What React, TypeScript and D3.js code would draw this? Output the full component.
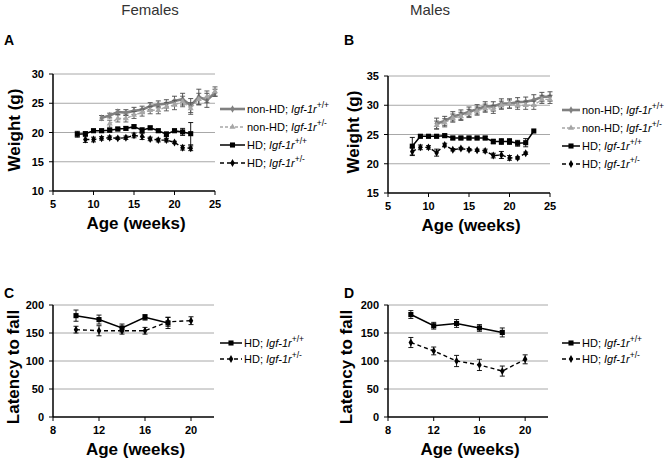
import React from 'react';
import * as d3 from 'd3';

// ---------- Data ----------
// Females body weight (g)
const fWtWeeks = [11, 12, 13, 14, 15, 16, 17, 18, 19, 20, 21, 22, 23, 24, 25];
const fWtMean = [22.5, 22.9, 23.5, 23.4, 23.7, 23.9, 24.5, 24.8, 24.9, 25.4, 25.7, 24.6, 26.1, 25.5, 26.8];
const fWtErr = [0.4, 0.4, 0.4, 0.5, 0.6, 0.6, 0.6, 0.6, 0.7, 0.8, 1.0, 1.2, 1.3, 1.2, 0.6];
const fHetWeeks = [12, 13, 14, 15, 16, 17, 18, 19, 20, 21, 22, 23, 24, 25];
const fHetMean = [21.5, 22.4, 22.4, 23.0, 23.4, 23.8, 23.8, 24.4, 24.7, 25.3, 24.1, 25.7, 26.1, 27.0];
const fHetErr = [0.6, 0.6, 0.6, 0.6, 0.6, 0.6, 0.6, 0.7, 0.8, 0.9, 1.0, 1.0, 1.0, 0.8];
const fHdWtWeeks = [8, 9, 10, 11, 12, 13, 14, 15, 16, 17, 18, 19, 20, 21, 22];
const fHdWtMean = [19.7, 19.8, 20.3, 20.3, 20.4, 20.6, 20.7, 21.0, 20.4, 20.8, 20.3, 19.7, 20.3, 20.1, 19.8];
const fHdWtErr = [0.5, 0.3, 0.3, 0.3, 0.3, 0.3, 0.3, 0.3, 0.4, 0.3, 0.3, 0.4, 0.3, 0.6, 1.9];
const fHdHetWeeks = [9, 10, 11, 12, 13, 14, 15, 16, 17, 18, 19, 20, 21, 22];
const fHdHetMean = [18.8, 18.8, 19.0, 19.1, 19.0, 19.1, 19.5, 19.3, 18.9, 18.7, 18.7, 18.3, 17.4, 17.3];
const fHdHetErr = [0.5, 0.4, 0.3, 0.3, 0.2, 0.3, 0.4, 0.5, 0.3, 0.3, 0.3, 0.2, 0.4, 0.4];

// Males body weight (g)
const mWtWeeks = [11, 12, 13, 14, 15, 16, 17, 18, 19, 20, 21, 22, 23, 24, 25];
const mWtMean = [26.9, 27.3, 28.1, 28.4, 28.9, 29.3, 29.8, 29.8, 30.3, 30.3, 30.5, 30.6, 30.9, 31.4, 31.5];
const mWtErr = [0.9, 0.8, 0.8, 0.8, 0.8, 0.8, 0.8, 0.8, 0.8, 0.8, 0.8, 0.8, 0.9, 0.8, 0.8];
const mHetWeeks = [11, 12, 13, 14, 15, 16, 17, 18, 19, 20, 21, 22, 23, 24, 25];
const mHetMean = [26.6, 27.0, 27.8, 28.1, 28.6, 29.0, 29.5, 29.3, 30.0, 30.2, 30.0, 30.0, 30.0, 31.0, 31.0];
const mHetErr = [0.7, 0.7, 0.7, 0.7, 0.7, 0.7, 0.7, 0.7, 0.7, 0.7, 0.7, 0.7, 0.7, 0.7, 0.7];
const mHdWtWeeks = [8, 9, 10, 11, 12, 13, 14, 15, 16, 17, 18, 19, 20, 21, 22, 23];
const mHdWtMean = [23.0, 24.7, 24.7, 24.7, 24.8, 24.4, 24.4, 24.4, 24.4, 24.4, 23.8, 23.8, 23.8, 23.5, 23.6, 25.6];
const mHdWtErr = [1.5, 0.3, 0.3, 0.3, 0.3, 0.3, 0.3, 0.3, 0.3, 0.3, 0.4, 0.5, 0.5, 0.5, 0.7, 0];
const mHdHetWeeks = [8, 9, 10, 11, 12, 13, 14, 15, 16, 17, 18, 19, 20, 21, 22];
const mHdHetMean = [22.1, 22.8, 22.8, 21.9, 23.2, 22.4, 22.6, 22.4, 22.3, 22.2, 21.4, 21.5, 21.0, 21.0, 21.8];
const mHdHetErr = [0.7, 0.4, 0.3, 0.6, 0.3, 0.2, 0.2, 0.2, 0.2, 0.3, 0.4, 0.6, 0.4, 0.2, 0.2];

// Rotarod latency to fall
const rotWtWeeks = [10, 12, 14, 16, 18];
const rotHetWeeks = [10, 12, 14, 16, 18, 20];
const fRotWtMean = [181, 174, 159, 178, 168];
const fRotWtErr = [10, 8, 7, 5, 10];
const fRotHetMean = [156, 154, 154, 154, 170, 172];
const fRotHetErr = [6, 9, 6, 6, 8, 7];
const mRotWtMean = [183, 163, 167, 159, 151];
const mRotWtErr = [7, 6, 7, 6, 8];
const mRotHetMean = [133, 118, 100, 93, 82, 103];
const mRotHetErr = [9, 7, 10, 10, 9, 8];

// Axis ticks
const weightXTicks = [5, 10, 15, 20, 25];
const fWeightYTicks = [10, 15, 20, 25, 30];
const mWeightYTicks = [15, 20, 25, 30, 35];
const rotXTicks = [8, 12, 16, 20];
const rotYTicks = [0, 50, 100, 150, 200];

// ---------- Styles ----------
type Style = {
  color: string;
  width: number;
  dash?: string;
  symbol: d3.SymbolType;
  size: number;
  errColor: string;
  gen: string;
};

const S_NONHD_WT: Style = { color: '#808080', width: 2.6, symbol: d3.symbolDiamond, size: 16, errColor: '#444', gen: '+/+' };
const S_NONHD_HET: Style = { color: '#a6a6a6', width: 1.4, dash: '3,2', symbol: d3.symbolTriangle, size: 16, errColor: '#555', gen: '+/-' };
const S_HD_WT: Style = { color: '#000', width: 1.5, symbol: d3.symbolSquare, size: 26, errColor: '#000', gen: '+/+' };
const S_HD_HET: Style = { color: '#000', width: 1.4, dash: '4,3', symbol: d3.symbolDiamond, size: 18, errColor: '#000', gen: '+/-' };

type Series = { weeks: number[]; mean: number[]; err: number[]; style: Style; label: string };

const FONT = 'Arial, "Liberation Sans", Helvetica, sans-serif';

type PanelProps = {
  letter: string;
  letterX: number;
  letterY: number;
  px0: number;
  px1: number;
  pyTop: number;
  pyBottom: number;
  xDomain: [number, number];
  yDomain: [number, number];
  xTicks: number[];
  yTicks: number[];
  yLabel: string;
  yLabelX: number;
  yLabelY: number;
  series: Series[];
  legendX: number;
  legendLineLen: number;
  legendY: number[];
};

function LegendEntry({ x, y, len, s }: { x: number; y: number; len: number; s: Series }) {
  const sym = d3.symbol().type(s.style.symbol).size(s.style.size)() || '';
  return (
    <g>
      <line x1={x} x2={x + len} y1={y} y2={y} stroke={s.style.color} strokeWidth={s.style.width} strokeDasharray={s.style.dash} />
      <path d={sym} transform={`translate(${x + len / 2},${y})`} fill={s.style.color} />
      <text x={x + len + 2} y={y + 4} fontSize={11} fontFamily={FONT} fill="#000">
        {s.label}
        <tspan fontStyle="italic">Igf-1r</tspan>
        <tspan fontSize={8.5} dy={-5}>{s.style.gen}</tspan>
      </text>
    </g>
  );
}

function Panel(p: PanelProps) {
  const x = d3.scaleLinear().domain(p.xDomain).range([p.px0, p.px1]);
  const y = d3.scaleLinear().domain(p.yDomain).range([p.pyBottom, p.pyTop]);
  return (
    <g fontFamily={FONT}>
      <text x={p.letterX} y={p.letterY} fontSize={14} fontWeight="bold">{p.letter}</text>
      {p.yTicks.slice(1).map((t) => (
        <line key={'g' + t} x1={p.px0} x2={p.px1} y1={y(t)} y2={y(t)} stroke="#a8a8a8" strokeWidth={1} />
      ))}
      <line x1={p.px0} x2={p.px0} y1={p.pyTop} y2={p.pyBottom} stroke="#000" strokeWidth={1.5} />
      <line x1={p.px0} x2={p.px1} y1={p.pyBottom} y2={p.pyBottom} stroke="#000" strokeWidth={1.5} />
      {p.yTicks.map((t) => (
        <g key={'y' + t}>
          <line x1={p.px0 - 4} x2={p.px0} y1={y(t)} y2={y(t)} stroke="#000" strokeWidth={1} />
          <text x={p.px0 - 9} y={y(t) + 4} fontSize={11} fontWeight="bold" textAnchor="end">{t}</text>
        </g>
      ))}
      {p.xTicks.map((t) => (
        <g key={'x' + t}>
          <line x1={x(t)} x2={x(t)} y1={p.pyBottom} y2={p.pyBottom + 4} stroke="#000" strokeWidth={1} />
          <text x={x(t)} y={p.pyBottom + 17} fontSize={11} fontWeight="bold" textAnchor="middle">{t}</text>
        </g>
      ))}
      <text x={(p.px0 + p.px1) / 2 + 2} y={p.pyBottom + 38} fontSize={17} fontWeight="bold" textAnchor="middle">Age (weeks)</text>
      <text transform={`translate(${p.yLabelX},${p.yLabelY}) rotate(-90)`} fontSize={17} fontWeight="bold" textAnchor="middle">{p.yLabel}</text>
      {p.series.map((s, si) => {
        const pts = s.weeks.map((w, i) => [w, s.mean[i]] as [number, number]);
        const line = d3.line<[number, number]>().x((d) => x(d[0])).y((d) => y(d[1]));
        const sym = d3.symbol().type(s.style.symbol).size(s.style.size)() || '';
        return (
          <g key={'s' + si}>
            {s.weeks.map((w, i) =>
              s.err[i] > 0 ? (
                <g key={'e' + i} stroke={s.style.errColor} strokeWidth={0.9}>
                  <line x1={x(w)} x2={x(w)} y1={y(s.mean[i] - s.err[i])} y2={y(s.mean[i] + s.err[i])} />
                  <line x1={x(w) - 2.5} x2={x(w) + 2.5} y1={y(s.mean[i] - s.err[i])} y2={y(s.mean[i] - s.err[i])} />
                  <line x1={x(w) - 2.5} x2={x(w) + 2.5} y1={y(s.mean[i] + s.err[i])} y2={y(s.mean[i] + s.err[i])} />
                </g>
              ) : null
            )}
            <path d={line(pts) || ''} fill="none" stroke={s.style.color} strokeWidth={s.style.width} strokeDasharray={s.style.dash} />
            {pts.map((d, i) => (
              <path key={'m' + i} d={sym} transform={`translate(${x(d[0])},${y(d[1])})`} fill={s.style.color} />
            ))}
          </g>
        );
      })}
      {p.series.map((s, i) => (
        <LegendEntry key={'l' + i} x={p.legendX} y={p.legendY[i]} len={p.legendLineLen} s={s} />
      ))}
    </g>
  );
}

export default function App() {
  const fWeight: Series[] = [
    { weeks: fWtWeeks, mean: fWtMean, err: fWtErr, style: S_NONHD_WT, label: 'non-HD; ' },
    { weeks: fHetWeeks, mean: fHetMean, err: fHetErr, style: S_NONHD_HET, label: 'non-HD; ' },
    { weeks: fHdWtWeeks, mean: fHdWtMean, err: fHdWtErr, style: S_HD_WT, label: 'HD; ' },
    { weeks: fHdHetWeeks, mean: fHdHetMean, err: fHdHetErr, style: S_HD_HET, label: 'HD; ' },
  ];
  const mWeight: Series[] = [
    { weeks: mWtWeeks, mean: mWtMean, err: mWtErr, style: S_NONHD_WT, label: 'non-HD; ' },
    { weeks: mHetWeeks, mean: mHetMean, err: mHetErr, style: S_NONHD_HET, label: 'non-HD; ' },
    { weeks: mHdWtWeeks, mean: mHdWtMean, err: mHdWtErr, style: S_HD_WT, label: 'HD; ' },
    { weeks: mHdHetWeeks, mean: mHdHetMean, err: mHdHetErr, style: S_HD_HET, label: 'HD; ' },
  ];
  const fRot: Series[] = [
    { weeks: rotWtWeeks, mean: fRotWtMean, err: fRotWtErr, style: S_HD_WT, label: 'HD; ' },
    { weeks: rotHetWeeks, mean: fRotHetMean, err: fRotHetErr, style: S_HD_HET, label: 'HD; ' },
  ];
  const mRot: Series[] = [
    { weeks: rotWtWeeks, mean: mRotWtMean, err: mRotWtErr, style: S_HD_WT, label: 'HD; ' },
    { weeks: rotHetWeeks, mean: mRotHetMean, err: mRotHetErr, style: S_HD_HET, label: 'HD; ' },
  ];
  return (
    <svg width={669} height={458} style={{ position: 'absolute', left: 0, top: 0, background: '#fff' }}>
      <rect width={669} height={458} fill="#fff" />
      <text x={150} y={15} fontSize={15} fontFamily={FONT} fill="#333" textAnchor="middle">Females</text>
      <text x={430} y={15} fontSize={15} fontFamily={FONT} fill="#333" textAnchor="middle">Males</text>
      <Panel letter="A" letterX={4} letterY={45} px0={53} px1={215} pyTop={74} pyBottom={191}
        xDomain={[5, 25]} yDomain={[10, 30]} xTicks={weightXTicks} yTicks={fWeightYTicks}
        yLabel="Weight (g)" yLabelX={20} yLabelY={130} series={fWeight} legendX={220} legendLineLen={25} legendY={[109, 127, 145, 163]} />
      <Panel letter="B" letterX={344} letterY={45} px0={388} px1={550} pyTop={76} pyBottom={193}
        xDomain={[5, 25]} yDomain={[15, 35]} xTicks={weightXTicks} yTicks={mWeightYTicks}
        yLabel="Weight (g)" yLabelX={359} yLabelY={132} series={mWeight} legendX={562} legendLineLen={18} legendY={[110, 128, 146, 164]} />
      <Panel letter="C" letterX={4} letterY={298} px0={53} px1={214} pyTop={305} pyBottom={417}
        xDomain={[8, 22]} yDomain={[0, 200]} xTicks={rotXTicks} yTicks={rotYTicks}
        yLabel="Latency to fall" yLabelX={19} yLabelY={367} series={fRot} legendX={220} legendLineLen={22} legendY={[343, 359]} />
      <Panel letter="D" letterX={344} letterY={298} px0={388} px1={548} pyTop={305} pyBottom={417}
        xDomain={[8, 22]} yDomain={[0, 200]} xTicks={rotXTicks} yTicks={rotYTicks}
        yLabel="Latency to fall" yLabelX={352} yLabelY={367} series={mRot} legendX={562} legendLineLen={18} legendY={[343, 359]} />
    </svg>
  );
}
